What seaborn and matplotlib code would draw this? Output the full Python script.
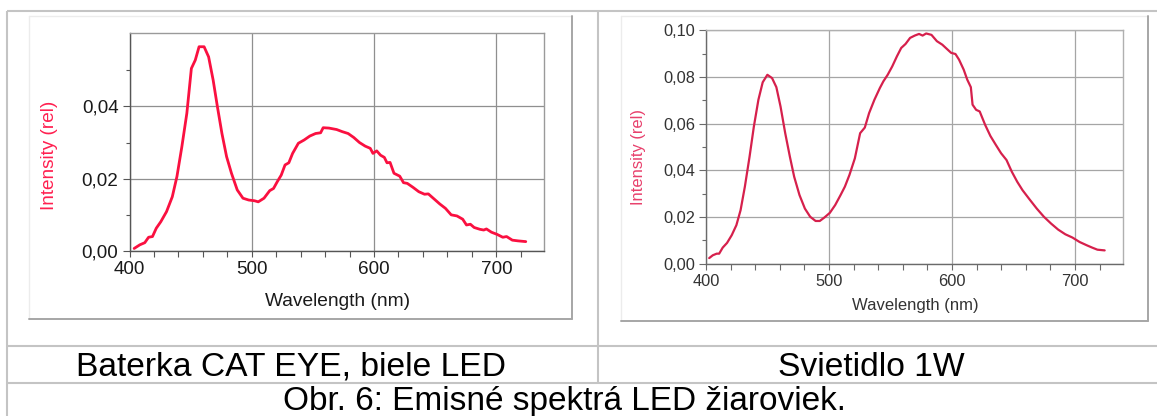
import matplotlib.pyplot as plt
import seaborn as sns
import pandas as pd
import numpy as np

# Baterka CAT EYE, biele LED  (wavelength in nm, relative intensity)
cat_nm = [403.8, 408.4, 412.5, 415.6, 418.8, 421.9, 425.6, 430.3, 435.0, 438.8,
          442.8, 446.9, 450.6, 453.8, 456.9, 461.0, 464.7, 468.4, 471.9, 475.6,
          479.4, 483.4, 488.1, 492.8, 497.5, 502.2, 505.3, 510.0, 514.7, 517.8,
          520.9, 524.1, 527.2, 530.3, 533.4, 538.1, 542.8, 547.5, 552.2, 556.3,
          558.4, 563.1, 569.4, 574.1, 578.8, 583.4, 588.1, 592.8, 596.9, 599.1,
          602.2, 605.3, 608.4, 610.6, 613.1, 616.3, 621.0, 624.1, 627.2, 631.9,
          636.6, 641.3, 644.4, 649.1, 653.8, 658.4, 663.1, 667.8, 672.5, 675.6,
          678.8, 681.9, 686.6, 689.7, 691.9, 696.0, 700.6, 705.3, 708.4, 713.1,
          717.8, 724.1]
cat_int = [0.0007, 0.0017, 0.0023, 0.0038, 0.0040, 0.0063, 0.0081, 0.0109, 0.0150, 0.0206,
           0.0288, 0.0381, 0.0505, 0.0528, 0.0565, 0.0565, 0.0537, 0.0473, 0.0399, 0.0325,
           0.0261, 0.0215, 0.0169, 0.0146, 0.0141, 0.0139, 0.0136, 0.0146, 0.0167, 0.0173,
           0.0192, 0.0210, 0.0238, 0.0244, 0.0270, 0.0298, 0.0307, 0.0318, 0.0325, 0.0327,
           0.0341, 0.0340, 0.0336, 0.0330, 0.0325, 0.0314, 0.0300, 0.0290, 0.0284, 0.0270,
           0.0277, 0.0265, 0.0259, 0.0244, 0.0245, 0.0215, 0.0207, 0.0189, 0.0187, 0.0176,
           0.0164, 0.0157, 0.0158, 0.0144, 0.0130, 0.0118, 0.0100, 0.0097, 0.0088, 0.0072,
           0.0074, 0.0065, 0.0060, 0.0058, 0.0061, 0.0052, 0.0046, 0.0038, 0.0040, 0.0030,
           0.0028, 0.0026]

# Svietidlo 1W
lamp_nm = [402.6, 405.5, 408.7, 410.7, 413.6, 417.1, 420.9, 424.7, 428.1, 431.6,
           435.4, 438.9, 442.6, 446.1, 449.9, 453.7, 457.2, 460.6, 464.4, 468.2,
           471.7, 476.0, 480.4, 484.7, 489.1, 492.5, 496.3, 500.7, 505.0, 509.4,
           512.9, 516.6, 521.0, 525.3, 529.1, 532.6, 536.9, 541.3, 544.2, 547.7,
           551.4, 555.2, 558.7, 562.2, 565.9, 569.7, 573.2, 576.1, 579.0, 583.3,
           587.7, 592.1, 596.4, 599.3, 602.8, 605.7, 609.5, 612.4, 615.3, 616.7,
           619.6, 622.5, 626.9, 631.2, 635.6, 639.9, 644.3, 648.6, 653.0, 657.3,
           663.1, 668.9, 674.7, 680.5, 686.3, 692.1, 697.9, 703.7, 709.5, 713.9,
           718.2, 724.1]
lamp_int = [0.0024, 0.0036, 0.0043, 0.0043, 0.0069, 0.0089, 0.0122, 0.0165, 0.0229, 0.0330,
            0.0458, 0.0587, 0.0702, 0.0777, 0.0809, 0.0795, 0.0756, 0.0673, 0.0559, 0.0458,
            0.0372, 0.0294, 0.0236, 0.0201, 0.0183, 0.0183, 0.0198, 0.0218, 0.0251, 0.0294,
            0.0330, 0.0380, 0.0451, 0.0559, 0.0583, 0.0645, 0.0702, 0.0752, 0.0781, 0.0809,
            0.0845, 0.0888, 0.0924, 0.0941, 0.0967, 0.0977, 0.0984, 0.0977, 0.0986, 0.0980,
            0.0953, 0.0938, 0.0917, 0.0903, 0.0898, 0.0874, 0.0831, 0.0788, 0.0756, 0.0681,
            0.0659, 0.0652, 0.0595, 0.0547, 0.0509, 0.0473, 0.0444, 0.0394, 0.0351, 0.0315,
            0.0275, 0.0236, 0.0201, 0.0172, 0.0146, 0.0126, 0.0112, 0.0093, 0.0079, 0.0069,
            0.0060, 0.0057]

x_ticks = [400, 500, 600, 700]
x_tick_labels = ['400', '500', '600', '700']
cat_y_ticks = [0.0, 0.02, 0.04]
cat_y_labels = ['0,00', '0,02', '0,04']
lamp_y_ticks = [0.0, 0.02, 0.04, 0.06, 0.08, 0.10]
lamp_y_labels = ['0,00', '0,02', '0,04', '0,06', '0,08', '0,10']
x_label = 'Wavelength (nm)'
y_label = 'Intensity (rel)'
captions = ['Baterka CAT EYE, biele LED', 'Svietidlo 1W']
figure_caption = 'Obr. 6: Emisné spektrá LED žiaroviek.'

sns.set_theme(style='white')
plt.rcParams['font.family'] = ['Liberation Sans', 'DejaVu Sans']

W, H = 1157, 416
fig = plt.figure(figsize=(W / 100, H / 100), dpi=100)
fig.patch.set_facecolor('white')


def px_axes(x0, y0, x1, y1):
    return fig.add_axes([x0 / W, 1 - y1 / H, (x1 - x0) / W, (y1 - y0) / H])


# table frame and chart boxes, in pixel coordinates
bg = fig.add_axes([0, 0, 1, 1], zorder=0)
bg.set_xlim(0, W)
bg.set_ylim(H, 0)
bg.axis('off')

line_c = '#c4c4c4'
for xs, ys in [([7, W], [11, 11]), ([7, 7], [11, H]), ([598, 598], [11, 383]),
               ([7, W], [346, 346]), ([7, W], [383, 383])]:
    bg.plot(xs, ys, color=line_c, lw=1.5, solid_capstyle='butt')


def chart_box(x0, y0, x1, y1):
    bg.plot([x0, x1], [y0, y0], color='#ececec', lw=1)
    bg.plot([x0, x0], [y0, y1], color='#ececec', lw=1)
    bg.plot([x1, x1], [y0, y1], color='#a6a6a6', lw=1.4)
    bg.plot([x0, x1], [y1, y1], color='#a6a6a6', lw=1.4)


chart_box(29, 16, 572, 319)
chart_box(621, 16, 1148, 321)

bg.text(291, 376, captions[0], ha='center', va='baseline', fontsize=24.2, color='black')
bg.text(871, 376, captions[1], ha='center', va='baseline', fontsize=24.2, color='black')
bg.text(564, 410, figure_caption, ha='center', va='baseline', fontsize=24, color='black')

ax1 = px_axes(129.5, 33, 544, 251)
ax2 = px_axes(706, 30.2, 1123, 263.7)

cat_df = pd.DataFrame({'nm': cat_nm, 'intensity': cat_int})
lamp_df = pd.DataFrame({'nm': lamp_nm, 'intensity': lamp_int})

sns.lineplot(data=cat_df, x='nm', y='intensity', ax=ax1, color='#fa1040', linewidth=2.0)
sns.lineplot(data=lamp_df, x='nm', y='intensity', ax=ax2, color='#d6204c', linewidth=1.6)


def style(ax, ytop, yticks, ylabels, fs, tick_c, lab_c, dark, light, grid_c,
          xlab_pos, ylab_pos):
    ax.set_xlim(400, 739)
    ax.set_ylim(0, ytop)
    ax.set_xticks(x_ticks)
    ax.set_xticklabels(x_tick_labels)
    ax.set_xticks(np.arange(420, 740, 20), minor=True)
    ax.set_yticks(yticks)
    ax.set_yticklabels(ylabels)
    ax.set_yticks(np.arange(0.01, ytop, 0.02), minor=True)
    ax.grid(True, which='major', color=grid_c, lw=0.9)
    ax.grid(False, which='minor')
    ax.tick_params(which='both', direction='out', bottom=True, left=True,
                   color=dark, labelcolor=tick_c, labelsize=fs, width=0.8)
    ax.tick_params(axis='x', which='both', length=4, pad=3.5)
    ax.tick_params(axis='y', which='major', length=5, pad=3)
    ax.tick_params(axis='y', which='minor', length=3)
    for s in ['left', 'bottom']:
        ax.spines[s].set_color(dark)
        ax.spines[s].set_linewidth(1.0)
    for s in ['top', 'right']:
        ax.spines[s].set_color(light)
        ax.spines[s].set_linewidth(1.0)
    ax.set_xlabel(x_label, fontsize=fs + 0.2, color=tick_c, va='center')
    ax.set_ylabel(y_label, fontsize=fs + 0.1, color=lab_c, va='center')
    ax.xaxis.set_label_coords(*xlab_pos)
    ax.yaxis.set_label_coords(*ylab_pos)
    ax.set_facecolor('white')


style(ax1, 0.0603, cat_y_ticks, cat_y_labels, 13.6, '#1a1a1a', '#ff2050',
      '#555555', '#9a9a9a', '#8f8f8f', (0.502, -0.232), (-0.192, 0.438))
style(ax2, 0.10, lamp_y_ticks, lamp_y_labels, 11.8, '#333333', '#e8406c',
      '#6a6a6a', '#b0b0b0', '#a5a5a5', (0.502, -0.177), (-0.161, 0.457))

fig.savefig('out.png', dpi=100, facecolor='white')
